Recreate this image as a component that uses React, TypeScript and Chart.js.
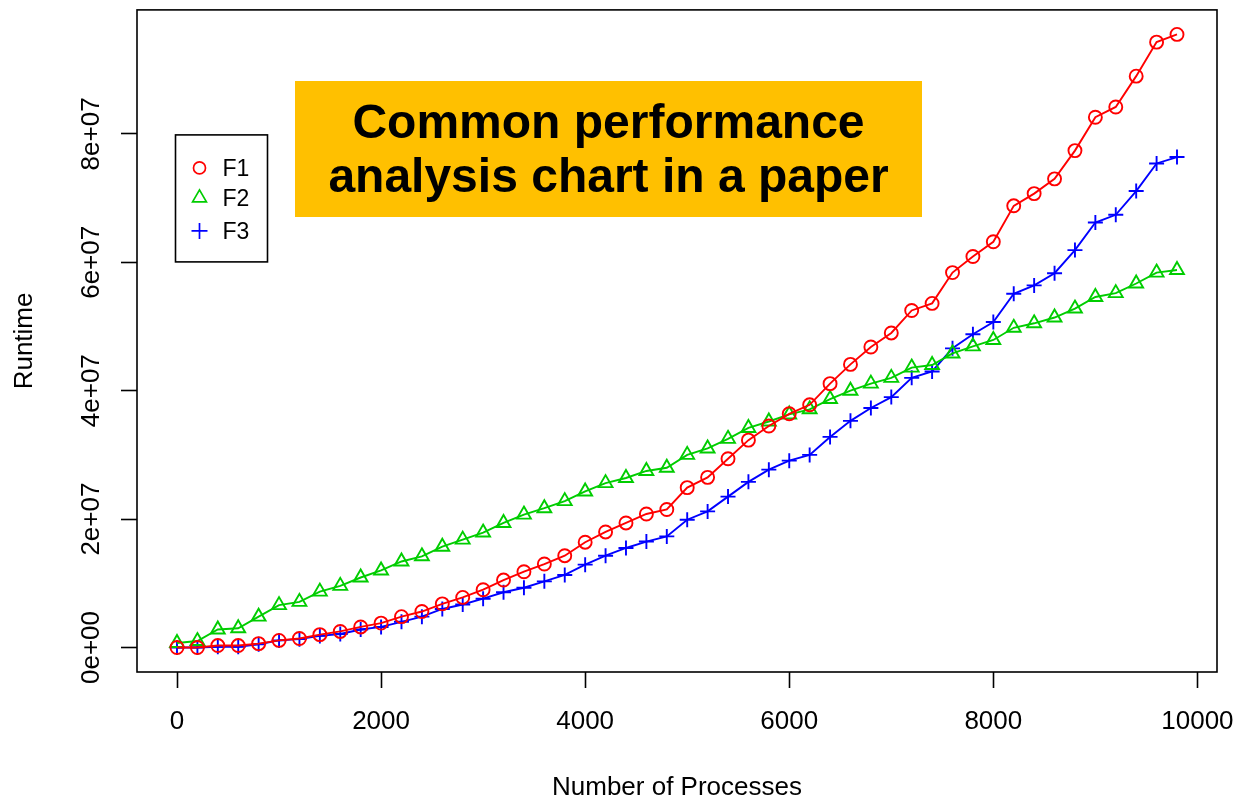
import React, { useEffect, useRef } from "react";
import { Chart, registerables } from "chart.js";

Chart.register(...registerables);

// ---------------- data ----------------
const processes = [
  0, 200, 400, 600, 800, 1000, 1200, 1400, 1600, 1800,
  2000, 2200, 2400, 2600, 2800, 3000, 3200, 3400, 3600, 3800,
  4000, 4200, 4400, 4600, 4800, 5000, 5200, 5400, 5600, 5800,
  6000, 6200, 6400, 6600, 6800, 7000, 7200, 7400, 7600, 7800,
  8000, 8200, 8400, 8600, 8800, 9000, 9200, 9400, 9600, 9800,
];

// runtime in millions
const f1 = [
  0, 0, 0.3, 0.3, 0.6, 1.1, 1.4, 2.0, 2.5, 3.2,
  3.8, 4.8, 5.6, 6.8, 7.8, 9.0, 10.5, 11.8, 13.0, 14.3,
  16.4, 18.0, 19.4, 20.8, 21.5, 24.9, 26.5, 29.4, 32.3, 34.5,
  36.4, 37.8, 41.1, 44.1, 46.8, 49.0, 52.5, 53.6, 58.4, 60.9,
  63.2, 68.8, 70.7, 73.0, 77.4, 82.6, 84.2, 89.0, 94.3, 95.5,
];
const f2 = [
  0.7, 1.0, 2.8, 3.0, 4.8, 6.6, 7.1, 8.7, 9.6, 10.9,
  12.0, 13.4, 14.2, 15.7, 16.8, 17.9, 19.4, 20.7, 21.7, 22.8,
  24.3, 25.6, 26.4, 27.5, 28.0, 30.0, 31.0, 32.5, 34.2, 35.2,
  36.3, 37.1, 38.7, 40.0, 41.1, 42.0, 43.6, 44.0, 45.8, 46.9,
  47.9, 49.8, 50.5, 51.4, 52.8, 54.6, 55.2, 56.7, 58.4, 58.8,
];
const f3 = [
  0, 0, 0.1, 0.1, 0.5, 1.1, 1.3, 1.8, 2.1, 2.8,
  3.2, 4.0, 4.8, 6.0, 6.7, 7.6, 8.6, 9.3, 10.3, 11.3,
  12.9, 14.3, 15.5, 16.5, 17.3, 19.9, 21.2, 23.5, 25.8, 27.7,
  29.1, 30.0, 32.8, 35.3, 37.3, 39.0, 42.0, 43.0, 46.6, 48.8,
  50.7, 55.1, 56.4, 58.3, 61.9, 66.2, 67.4, 71.1, 75.4, 76.4,
];

const seriesNames = ["F1", "F2", "F3"];
const seriesColors = ["#ff0000", "#00cd00", "#0000ff"];
const xTicks = [0, 2000, 4000, 6000, 8000, 10000];
const yTicks = [0, 2e7, 4e7, 6e7, 8e7];
const yTickLabels = ["0e+00", "2e+07", "4e+07", "6e+07", "8e+07"];
const titleLines = ["Common performance", "analysis chart in a paper"];
const xTitle = "Number of Processes";
const yTitle = "Runtime";
const UNIT = 1e6;

const FONT = "'Liberation Sans', Arial, Helvetica, sans-serif";

function toPoints(vals: number[]) {
  return processes.map((x, i) => ({ x, y: vals[i] * UNIT }));
}

const decorPlugin = {
  id: "decor",
  afterDraw(chart: any) {
    const ctx = chart.ctx as CanvasRenderingContext2D;
    const ca = chart.chartArea;
    const ys = chart.scales.y;
    ctx.save();

    // plot box
    ctx.strokeStyle = "#000";
    ctx.lineWidth = 1.6;
    ctx.strokeRect(ca.left, ca.top, ca.right - ca.left, ca.bottom - ca.top);

    // rotated y tick labels
    ctx.fillStyle = "#000";
    ctx.font = `26px ${FONT}`;
    ctx.textAlign = "center";
    ctx.textBaseline = "alphabetic";
    yTicks.forEach((v, i) => {
      const py = ys.getPixelForValue(v);
      ctx.save();
      ctx.translate(ca.left - 38.5, py);
      ctx.rotate(-Math.PI / 2);
      ctx.fillText(yTickLabels[i], 0, 0);
      ctx.restore();
    });

    // x axis title
    ctx.fillText(xTitle, (ca.left + ca.right) / 2, 795);

    // legend
    const lx = ca.left + 38.5;
    const ly = ca.top + 125;
    ctx.lineWidth = 1.6;
    ctx.strokeStyle = "#000";
    ctx.strokeRect(lx, ly, 92, 127);
    const rowsY = [ly + 33, ly + 63, ly + 96];
    ctx.font = `23px ${FONT}`;
    ctx.textAlign = "left";
    seriesNames.forEach((name, i) => {
      const cx = lx + 24;
      const cy = rowsY[i];
      ctx.strokeStyle = seriesColors[i];
      ctx.lineWidth = 1.7;
      ctx.beginPath();
      if (i === 0) {
        ctx.arc(cx, cy, 6, 0, Math.PI * 2);
      } else if (i === 1) {
        const r = 8;
        ctx.moveTo(cx, cy - r);
        ctx.lineTo(cx + r * 0.866, cy + r * 0.5);
        ctx.lineTo(cx - r * 0.866, cy + r * 0.5);
        ctx.closePath();
      } else {
        const r = 8;
        ctx.moveTo(cx - r, cy);
        ctx.lineTo(cx + r, cy);
        ctx.moveTo(cx, cy - r);
        ctx.lineTo(cx, cy + r);
      }
      ctx.stroke();
      ctx.fillStyle = "#000";
      ctx.fillText(name, lx + 47, cy + 8.5);
    });

    // highlighted title box
    ctx.fillStyle = "#ffc000";
    ctx.fillRect(295, 81, 627, 136);
    ctx.fillStyle = "#000";
    ctx.font = `bold 48px ${FONT}`;
    ctx.textAlign = "center";
    ctx.fillText(titleLines[0], 608.5, 138);
    ctx.fillText(titleLines[1], 608.5, 192);

    ctx.restore();
  },
};

export default function App() {
  const ref = useRef<HTMLCanvasElement | null>(null);

  useEffect(() => {
    if (!ref.current) return;
    const pointRadii = [6.5, 8, 7.5];
    const styles = ["circle", "triangle", "cross"];
    const dataSets = [f1, f2, f3];
    const chart = new Chart(ref.current, {
      type: "line",
      data: {
        datasets: dataSets.map((d, i) => ({
          label: seriesNames[i],
          data: toPoints(d),
          borderColor: seriesColors[i],
          borderWidth: 1.9,
          backgroundColor: "rgba(0,0,0,0)",
          pointStyle: styles[i] as any,
          pointRadius: pointRadii[i],
          pointHoverRadius: pointRadii[i],
          pointBorderColor: seriesColors[i],
          pointBackgroundColor: "rgba(0,0,0,0)",
          pointBorderWidth: 1.9,
          tension: 0,
          fill: false,
        })),
      },
      options: {
        animation: false,
        responsive: false,
        devicePixelRatio: 1,
        layout: { padding: { left: 0, right: 21, top: 8, bottom: 0 } },
        plugins: {
          legend: { display: false },
          tooltip: { enabled: false },
          title: { display: false },
        },
        scales: {
          x: {
            type: "linear",
            min: -392,
            max: 10192,
            afterBuildTicks: (s: any) => {
              s.ticks = xTicks.map((v) => ({ value: v }));
            },
            afterFit: (s: any) => {
              s.height = 126;
              s.paddingLeft = 0;
              s.paddingRight = 0;
            },
            ticks: {
              color: "#000",
              font: { family: FONT, size: 26 },
              padding: 18,
              autoSkip: false,
              maxRotation: 0,
              minRotation: 0,
              callback: (v: any) => String(v),
            },
            grid: {
              display: true,
              drawOnChartArea: false,
              drawTicks: true,
              tickLength: 16,
              tickColor: "#000",
              tickWidth: 1.6,
            },
            border: { display: false },
            title: { display: false },
          },
          y: {
            type: "linear",
            min: -3.82e6,
            max: 99.32e6,
            afterBuildTicks: (s: any) => {
              s.ticks = yTicks.map((v) => ({ value: v }));
            },
            afterFit: (s: any) => {
              s.width = 137;
              s.paddingTop = 0;
              s.paddingBottom = 0;
            },
            ticks: { display: false },
            grid: {
              display: true,
              drawOnChartArea: false,
              drawTicks: true,
              tickLength: 16,
              tickColor: "#000",
              tickWidth: 1.6,
            },
            border: { display: false },
            title: {
              display: true,
              text: yTitle,
              color: "#000",
              font: { family: FONT, size: 26 },
              padding: { top: 9, bottom: 0 },
            },
          },
        },
      },
      plugins: [decorPlugin],
    });
    return () => chart.destroy();
  }, []);

  return (
    <div
      style={{
        position: "absolute",
        left: 0,
        top: 0,
        width: 1238,
        height: 798,
        background: "#fff",
      }}
    >
      <canvas ref={ref} width={1238} height={798} />
    </div>
  );
}
